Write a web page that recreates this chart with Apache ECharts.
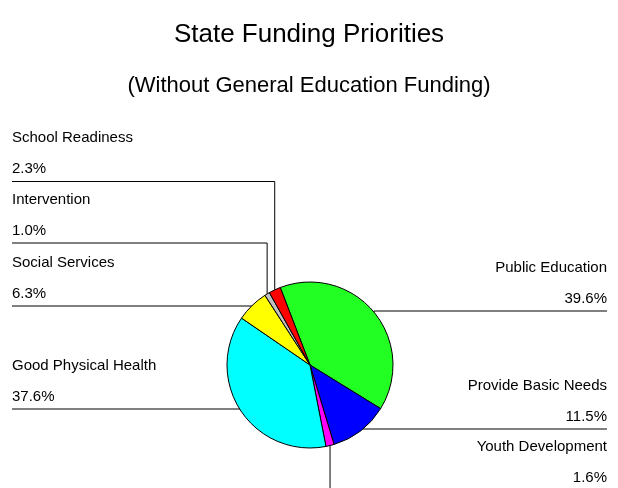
<!DOCTYPE html>
<html>
<head>
<meta charset="utf-8">
<script src="https://cdn.jsdelivr.net/npm/echarts@6/dist/echarts.min.js"></script>
<style>
  html, body { margin: 0; padding: 0; background: #fff; }
  #chart { width: 618px; height: 488px; }
</style>
</head>
<body>
<div id="chart"></div>
<script>
// data, clockwise from the top
const categories = ['Public Education', 'Provide Basic Needs', 'Youth Development', 'Good Physical Health', 'Social Services', 'Intervention', 'School Readiness'];
const shares = [39.6, 11.5, 1.6, 37.6, 6.3, 1.0, 2.3];
const sliceColors = ['#22ff22', '#0000ff', '#ff00ff', '#00ffff', '#ffff00', '#c0c0c0', '#ff0000'];

// where each label sits: side and y of the rule under it
const labelSlots = {
    'School Readiness': { side: 'left', lineY: 181.5 },
    'Intervention': { side: 'left', lineY: 243 },
    'Social Services': { side: 'left', lineY: 306 },
    'Good Physical Health': { side: 'left', lineY: 409 },
    'Public Education': { side: 'right', lineY: 311 },
    'Provide Basic Needs': { side: 'right', lineY: 429 },
    'Youth Development': { side: 'right', lineY: 490 }
};

const font = 'Arial, "Liberation Sans", sans-serif';
const chart = echarts.init(document.getElementById('chart'));

chart.setOption({
    backgroundColor: '#fff',
    animation: false,
    title: [
        {
            text: 'State Funding Priorities',
            left: 'center',
            top: 17,
            textStyle: { fontFamily: font, fontSize: 26, fontWeight: 'normal', color: '#000' }
        },
        {
            text: '(Without General Education Funding)',
            left: 'center',
            top: 70,
            textStyle: { fontFamily: font, fontSize: 22, fontWeight: 'normal', color: '#000' }
        }
    ],
    series: [{
        type: 'pie',
        center: [310, 365],
        radius: 83,
        startAngle: 111,
        clockwise: true,
        avoidLabelOverlap: false,
        itemStyle: { borderColor: '#000', borderWidth: 1 },
        label: {
            show: true,
            position: 'outside',
            fontFamily: font,
            color: '#000',
            formatter: p => '{n|' + p.name + '}\n{v|' + p.value.toFixed(1) + '%}',
            rich: {
                n: { fontFamily: font, fontSize: 15, lineHeight: 31, color: '#000' },
                v: { fontFamily: font, fontSize: 15, lineHeight: 31, color: '#000' }
            }
        },
        labelLine: {
            show: true,
            length: 10,
            length2: 10,
            lineStyle: { color: '#000', width: 1 }
        },
        labelLayout: function (params) {
            const name = categories[params.dataIndex];
            const slot = labelSlots[name];
            const edge = params.labelLinePoints[0];
            const left = slot.side === 'left';
            const endX = left ? 12 : 607;
            return {
                x: endX,
                y: slot.lineY + 3,
                align: left ? 'left' : 'right',
                verticalAlign: 'bottom',
                labelLinePoints: [
                    [edge[0], edge[1]],
                    [edge[0], slot.lineY],
                    [endX, slot.lineY]
                ]
            };
        },
        data: categories.map((c, i) => ({
            name: c,
            value: shares[i],
            itemStyle: { color: sliceColors[i] }
        }))
    }]
});
</script>
</body>
</html>
